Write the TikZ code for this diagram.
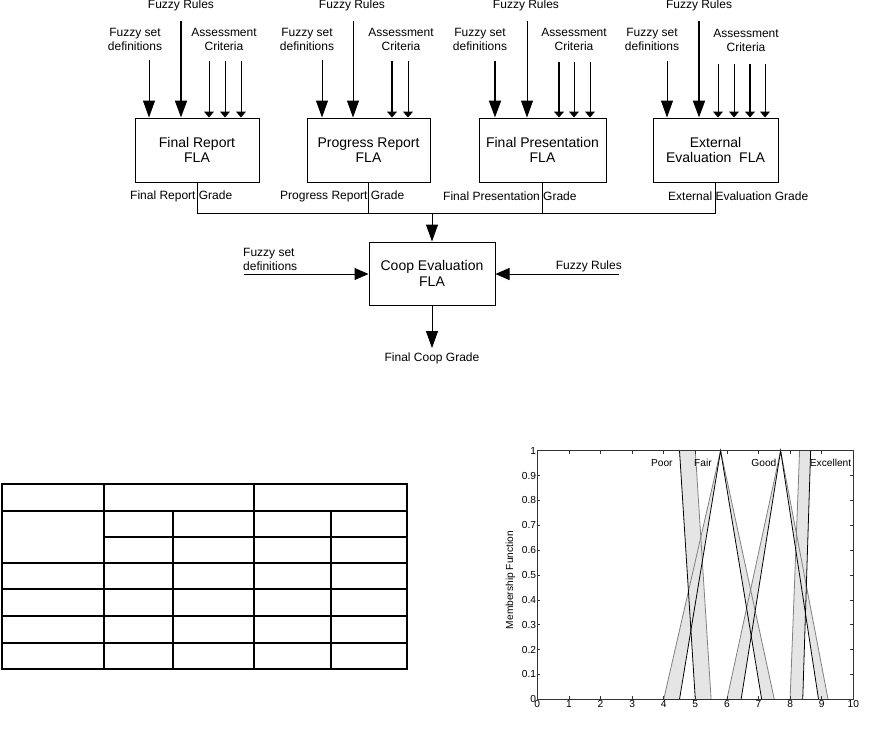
\documentclass[tikz,border=0pt]{standalone}
\usepackage{fontspec}
\setmainfont{Liberation Sans}
\usetikzlibrary{arrows.meta}

\begin{document}
\begin{tikzpicture} [x=1pt,y=-1pt,
            fla/.style={draw,line width=1pt,rectangle,inner sep=0pt,font=\fontsize{14}{15.6}\selectfont},
            lbl/.style={inner sep=0pt,font=\fontsize{12}{14}\selectfont},
            bigin/.style={-{Triangle[width=12pt,length=17pt]},line width=1pt},
            bigthick/.style={bigin,line width=2pt},
            sidein/.style={-{Triangle[width=12pt,length=14pt]},line width=1pt},
            smallin/.style={-{Triangle[width=10pt,length=6pt]},line width=1pt},
            smallthick/.style={smallin,line width=2pt},
            upper/.style={black!50,line width=0.8pt},
            lower/.style={black,line width=0.8pt},
            tick/.style={black!80,line width=0.6pt},
            chartlbl/.style={inner sep=1pt,font=\fontsize{10.2}{12}\selectfont},
            tbl/.style={line width=1.5pt},
         every node/.append style={align=center}]
\useasboundingbox (0,0) rectangle (891,732);

%FR
\node (fr) at (197,150) [fla,minimum width=124pt,minimum height=64pt] {Final Report\\FLA};
\node (fr-rules) at (181,5) [lbl] {Fuzzy Rules};
\node (fr-sets) at (135,39) [lbl] {Fuzzy set\\definitions};
\node (fr-crit) at (224,39) [lbl] {Assessment\\Criteria};
\coordinate (fr-s) at (149,60);
\coordinate (fr-r) at (181,21);
\coordinate (fr-c1) at (209,61);
\coordinate (fr-c2) at (225,61);
\coordinate (fr-c3) at (241,61);
\draw [bigin] (fr-s) -- (fr-s |- fr.north);
\draw [bigthick] (fr-r) -- (fr-r |- fr.north);
\draw [smallin] (fr-c1) -- (fr-c1 |- fr.north);
\draw [smallin] (fr-c2) -- (fr-c2 |- fr.north);
\draw [smallin] (fr-c3) -- (fr-c3 |- fr.north);
\node (fr-grade) at (130,196) [lbl,anchor=west] {Final Report Grade};

%PR
\node (pr) at (368.5,150) [fla,minimum width=123pt,minimum height=64pt] {Progress Report\\FLA};
\node (pr-rules) at (352,5) [lbl] {Fuzzy Rules};
\node (pr-sets) at (307,39) [lbl] {Fuzzy set\\definitions};
\node (pr-crit) at (401,39) [lbl] {Assessment\\Criteria};
\coordinate (pr-s) at (322,60);
\coordinate (pr-r) at (353,21);
\coordinate (pr-c1) at (392,61);
\coordinate (pr-c2) at (408,61);
\draw [bigin] (pr-s) -- (pr-s |- pr.north);
\draw [bigin] (pr-r) -- (pr-r |- pr.north);
\draw [smallthick] (pr-c1) -- (pr-c1 |- pr.north);
\draw [smallin] (pr-c2) -- (pr-c2 |- pr.north);
\node (pr-grade) at (280,196) [lbl,anchor=west] {Progress Report Grade};

%FP
\node (fp) at (542.5,150) [fla,minimum width=127pt,minimum height=64pt] {Final Presentation\\FLA};
\node (fp-rules) at (526,5) [lbl] {Fuzzy Rules};
\node (fp-sets) at (480,39) [lbl] {Fuzzy set\\definitions};
\node (fp-crit) at (574,39) [lbl] {Assessment\\Criteria};
\coordinate (fp-s) at (495,61);
\coordinate (fp-r) at (527,21);
\coordinate (fp-c1) at (559,62);
\coordinate (fp-c2) at (574,62);
\coordinate (fp-c3) at (590,62);
\draw [bigthick] (fp-s) -- (fp-s |- fp.north);
\draw [bigin] (fp-r) -- (fp-r |- fp.north);
\draw [smallthick] (fp-c1) -- (fp-c1 |- fp.north);
\draw [smallin] (fp-c2) -- (fp-c2 |- fp.north);
\draw [smallin] (fp-c3) -- (fp-c3 |- fp.north);
\node (fp-grade) at (443,196) [lbl,anchor=west] {Final Presentation Grade};

%EE
\node (ee) at (715.5,150) [fla,minimum width=125pt,minimum height=64pt] {External\\Evaluation\ \ FLA};
\node (ee-rules) at (699,5) [lbl] {Fuzzy Rules};
\node (ee-sets) at (652,39) [lbl] {Fuzzy set\\definitions};
\node (ee-crit) at (746,40.5) [lbl] {Assessment\\Criteria};
\coordinate (ee-s) at (667,61);
\coordinate (ee-r) at (699,21);
\coordinate (ee-c1) at (718,64);
\coordinate (ee-c2) at (734,64);
\coordinate (ee-c3) at (750,64);
\coordinate (ee-c4) at (765,64);
\draw [bigin] (ee-s) -- (ee-s |- ee.north);
\draw [bigthick] (ee-r) -- (ee-r |- ee.north);
\draw [smallin] (ee-c1) -- (ee-c1 |- ee.north);
\draw [smallin] (ee-c2) -- (ee-c2 |- ee.north);
\draw [smallthick] (ee-c3) -- (ee-c3 |- ee.north);
\draw [smallin] (ee-c4) -- (ee-c4 |- ee.north);
\node (ee-grade) at (668,196) [lbl,anchor=west] {External Evaluation Grade};

% grades to coop
\coordinate (bus-l) at (197,213);
\coordinate (bus-c) at (432,213);
\coordinate (bus-r) at (715.5,213);
\draw [line width=1pt] (fr.south) -- (bus-l) -- (bus-r) -- (ee.south);
\draw [line width=1pt] (pr.south) -- (pr.south |- bus-l);
\draw [line width=1pt] (fp.south) -- (fp.south |- bus-l);

%Coop
\node (coop) at (432,273.5) [fla,minimum width=126pt,minimum height=63pt] {Coop Evaluation\\FLA};
\draw [bigin] (bus-c) -- (coop.north);
\node (coop-sets) at (243,259) [lbl,anchor=west,align=left] {Fuzzy set\\definitions};
\node (coop-rules) at (622,266) [lbl,anchor=east] {Fuzzy Rules};
\coordinate (coop-s) at (244,274);
\coordinate (coop-r) at (619,274);
\coordinate (coop-o) at (432,348);
\draw [sidein] (coop-s) -- (coop-s -| coop.west);
\draw [sidein] (coop-r) -- (coop-r -| coop.east);
\draw [bigin] (coop.south) -- (coop-o);
\node (final) at (432,358) [lbl] {Final Coop Grade};

% table
\draw [tbl] (2,484) rectangle (407,669);
\draw [tbl] (2,511) -- (407,511);
\draw [tbl] (104,537) -- (407,537);
\draw [tbl] (2,563) -- (407,563);
\draw [tbl] (2,589) -- (407,589);
\draw [tbl] (2,616) -- (407,616);
\draw [tbl] (2,643) -- (407,643);
\draw [tbl] (104,484) -- (104,669);
\draw [tbl] (254,484) -- (254,669);
\draw [tbl] (173,511) -- (173,669);
\draw [tbl] (331,511) -- (331,669);

% membership functions
\begin{scope}[shift={(537.3pt,-699.3pt)},x=31.6pt,y=248.6pt]
   % footprints
   \fill[black!10] (4.5,1) -- (5,1) -- (5.5,0) -- (5,0) -- cycle;
   \fill[black!10] (4,0) -- (5.8,1) -- (7.5,0) -- (7.1,0) -- (5.8,1) -- (4.5,0) -- cycle;
   \fill[black!10] (6,0) -- (7.7,1) -- (9.2,0) -- (8.9,0) -- (7.7,1) -- (6.45,0) -- cycle;
   \fill[black!10] (8,0) -- (8.3,1) -- (8.65,1) -- (8.4,0) -- cycle;
   % upper
   \draw[upper] (5,1) -- (5.5,0);
   \draw[upper] (4,0) -- (5.8,1) -- (7.5,0);
   \draw[upper] (6,0) -- (7.7,1) -- (9.2,0);
   \draw[upper] (8,0) -- (8.3,1);
   % lower
   \draw[lower] (4.5,1) -- (5,0);
   \draw[lower] (4.5,0) -- (5.8,1) -- (7.1,0);
   \draw[lower] (6.45,0) -- (7.7,1) -- (8.9,0);
   \draw[lower] (8.4,0) -- (8.65,1);
   % axes
   \draw[tick] (0,0) rectangle (10,1);
   \foreach \i in {0,...,10} {
      \draw[tick] (\i,0) -- ++(0,3pt);
      \draw[tick] (\i,1) -- ++(0,-3pt);
      \node (xt-\i) at (\i,0) [chartlbl,anchor=north] {\i};
   }
   \foreach \v/\t in {0/0,0.1/0.1,0.2/0.2,0.3/0.3,0.4/0.4,0.5/0.5,0.6/0.6,0.7/0.7,0.8/0.8,0.9/0.9,1/1} {
      \draw[tick] (0,\v) -- ++(3pt,0);
      \draw[tick] (10,\v) -- ++(-3pt,0);
      \node (yt-\t) at (0,\v) [chartlbl,anchor=east] {\t};
   }
   \node (ylab) at (-0.85,0.48) [chartlbl,rotate=90] {Membership Function};
   \node (poor) at (3.94,0.95) [chartlbl] {Poor};
   \node (fair) at (5.24,0.95) [chartlbl] {Fair};
   \node (good) at (7.17,0.95) [chartlbl] {Good};
   \node (excel) at (9.28,0.95) [chartlbl] {Excellent};
\end{scope}

\end{tikzpicture}
\end{document}
